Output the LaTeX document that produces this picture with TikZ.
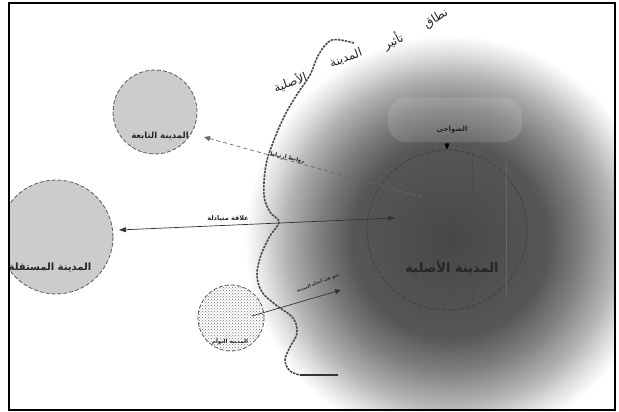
\documentclass[tikz,border=0pt]{standalone}
\usepackage{fontspec}
\newfontfamily\arabicfont[Script=Arabic]{DejaVu Sans}
\TeXXeTstate=1
\usetikzlibrary{arrows.meta,patterns}
\pgfdeclareradialshading{bigglow}{\pgfpoint{0bp}{0bp}}{color(0bp)=(black!72); color(12bp)=(black!66); color(16bp)=(black!50); color(20bp)=(black!30); color(22.5bp)=(black!14); color(25bp)=(white); color(50bp)=(white)}
\newcommand{\artxt}[1]{{\arabicfont\beginR #1\endR}}
\tikzset{
  city/.style={circle, draw=black!65, line width=0.8pt, dash pattern=on 4pt off 2pt, fill=black!20, inner sep=0pt},
  lbl/.style={font=\arabicfont\bfseries, inner sep=1pt, text=black!85},
  ttl/.style={font=\arabicfont\fontsize{12}{14}\selectfont, inner sep=0pt, text=black!85},
  border/.style={line width=1.2pt, draw=black},
  wave/.style={line width=1.6pt, draw=black!70, dash pattern=on 2.5pt off 1pt},
  tip/.style={-{Triangle[length=6pt,width=5pt]}}
}
\begin{document}
\begin{tikzpicture}[x=1pt,y=-1pt]
\useasboundingbox (0,0) rectangle (619,412);
\begin{scope}
\clip (9,3) rectangle (615,410);
\shade[shading=bigglow] (450,240) circle[radius=205pt];
% suburbs blob
\fill[white, opacity=0.12, rounded corners=18pt] (388,98) rectangle (522,142);
% cities
\node[city, minimum size=84pt] (sat) at (155,112) {};
\node[city, minimum size=114pt] (ind) at (56,237) {};
\node[city, fill=white, minimum size=66pt] (twin) at (231,318) {};
\fill[pattern=crosshatch dots, pattern color=black!55] (231,318) circle[radius=33pt];
\node[city, fill=none, draw=black!75, minimum size=160pt] (orig) at (447,230) {};
\draw[black!70, line width=0.5pt] (472,152) -- (472,307);
\draw[black!60, line width=0.4pt] (506,162) -- (506,298);
% labels
\node[lbl, font=\arabicfont\bfseries\fontsize{13}{15}\selectfont] (origlbl) at (452,267) {\artxt{المدينة الأصلية}};
\node[lbl, font=\arabicfont\bfseries\fontsize{8.5}{10}\selectfont] (satlbl) at (160,136) {\artxt{المدينة التابعة}};
\node[lbl, font=\arabicfont\bfseries\fontsize{10}{12}\selectfont] (indlbl) at (50,268) {\artxt{المدينة المستقلة}};
\node[lbl, font=\arabicfont\bfseries\fontsize{5.5}{7}\selectfont] (twinlbl) at (230,341) {\artxt{المدينة التوأم}};
\node[lbl, font=\arabicfont\bfseries\fontsize{7}{8}\selectfont] (sublbl) at (452,130) {\artxt{الضواحي}};
\node[lbl, font=\arabicfont\bfseries\fontsize{6.5}{8}\selectfont] (mutlbl) at (228,219) {\artxt{علاقة متبادلة}};
\node[lbl, font=\arabicfont\bfseries\fontsize{5.5}{7}\selectfont, rotate=-12] (linklbl) at (287,158) {\artxt{روابط ارتباط}};
\node[lbl, font=\arabicfont\bfseries\fontsize{4.5}{6}\selectfont, rotate=22] (growlbl) at (318,283) {\artxt{نمو في اتجاه المدينة}};
% title, word by word along the boundary
\node[ttl, rotate=32] (t1) at (436,19) {\artxt{نطاق}};
\node[ttl, rotate=26] (t2) at (393,41) {\artxt{تأثير}};
\node[ttl, rotate=20] (t3) at (346,58) {\artxt{المدينة}};
\node[ttl, rotate=20] (t4) at (290,82) {\artxt{الأصلية}};
% boundary of influence
\draw[wave] plot[smooth, tension=0.6] coordinates {(354,43) (332,40) (319,54) (310,75) (298,93) (285,115) (274,140) (266,165) (264,195) (270,212) (279,222) (270,236) (261,255) (257,275) (262,292) (276,305) (293,318) (297,333) (290,347) (285,360) (290,371) (300,375)};
\draw[line width=1.4pt, black!80] (300,375) -- (338,375);
% connectors
\coordinate (linkA) at (204,137);
\coordinate (linkB) at (425,198);
\draw[black!60, line width=0.7pt, dash pattern=on 4pt off 3pt, {Triangle[length=6pt,width=5pt]}-] (linkA) -- (linkB);
\coordinate (mutA) at (119,230);
\coordinate (mutB) at (395,218);
\draw[black!80, line width=0.7pt, {Triangle[length=7pt,width=5pt]}-{Triangle[length=7pt,width=5pt]}] (mutA) -- (mutB);
\coordinate (growA) at (252,316);
\coordinate (growB) at (341,290);
\draw[black!80, line width=0.7pt, tip] (growA) -- (growB);
\coordinate (subA) at (447,143);
\draw[black, line width=0.6pt, tip] (subA) -- (orig.north);
\end{scope}
\draw[border] (9,3) rectangle (615,410);
\end{tikzpicture}
\end{document}
